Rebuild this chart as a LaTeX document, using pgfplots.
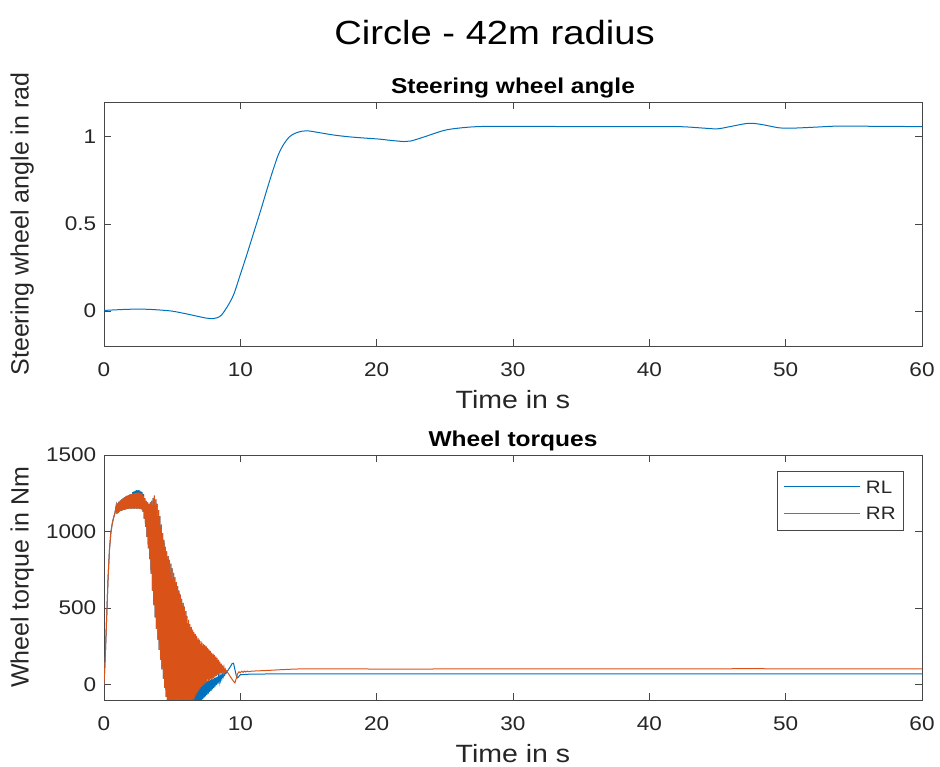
\documentclass[border=0pt]{standalone}
\usepackage{pgfplots}
\pgfplotsset{compat=1.18}
\usepackage{fontspec}
\setmainfont{Liberation Sans}[FakeStretch=1.14]
\newfontfamily\plainsans{Liberation Sans}
\definecolor{mblue}{RGB}{0,114,189}
\definecolor{morange}{RGB}{217,83,25}
\definecolor{axgray}{RGB}{38,38,38}
\pgfplotsset{
 myaxis/.style={
  scale only axis, width=818pt,
  xmin=0, xmax=60, xtick={0,10,...,60},
  axis line style={axgray!85, line width=0.8pt},
  major tick style={axgray!85, line width=0.8pt},
  major tick length=7pt,
  tick align=inside,
  ticklabel style={font=\fontsize{19.8}{23}\selectfont, text=axgray},
  /pgf/number format/assume math mode=true,
  /pgf/number format/1000 sep={},
  scaled y ticks=false,
  xticklabel style={anchor=base, yshift=-31pt},
  yticklabel style={anchor=east, inner sep=0pt, xshift=-7.5pt},
  xlabel style={at={(axis description cs:0.5,0)}, anchor=base, yshift=-63pt, font=\fontsize{25}{29}\selectfont, text=axgray},
  ylabel style={at={(axis description cs:-0.1,0.5)}, anchor=center, font=\plainsans\fontsize{25}{29}\selectfont, text=axgray},
  title style={at={(axis description cs:0.5,1)}, anchor=base, yshift=2pt, font=\bfseries\fontsize{21.5}{25}\selectfont, inner sep=0pt},
  xlabel={Time in s},
 }
}
\begin{document}
\begin{tikzpicture}
\path[use as bounding box] (0,0) rectangle (940pt,767pt);
\node[anchor=base, font=\fontsize{33.5}{38}\selectfont, inner sep=0pt] at (494.5pt,722pt) {Circle - 42m radius};

\begin{axis}[myaxis, at={(104pt,421pt)}, anchor=south west, height=244pt,
  ymin=-0.2, ymax=1.2, ytick={0,0.5,1},
  ylabel={Steering wheel angle in rad}, title={Steering wheel angle}]
\addplot[color=mblue, line width=1pt, smooth] coordinates {
(0,0.004) (1,0.008) (2,0.011) (3,0.011) (4,0.007) (5,0.0) (6,-0.015) (7,-0.032)
(7.5,-0.040) (8,-0.043) (8.3,-0.038) (8.6,-0.024) (9,0.02) (9.5,0.093) (10,0.21)
(10.5,0.33) (11,0.455) (11.5,0.58) (12,0.71) (12.4,0.81) (12.8,0.9) (13.2,0.96)
(13.6,1.0) (14,1.02) (14.5,1.032) (15,1.034) (15.5,1.028) (16.8,1.011) (18,1.0)
(19.3,0.992) (20.2,0.987) (21,0.98) (22,0.973) (22.5,0.976) (23.5,1.0) (24.9,1.036)
(26,1.05) (27.5,1.059) (30,1.06) (35,1.059) (40,1.059) (42.4,1.058) (44,1.05)
(45,1.046) (46,1.06) (47.3,1.078) (48.3,1.07) (49.5,1.052) (50.5,1.05) (52,1.055)
(54,1.062) (57,1.06) (60,1.059)
};
\end{axis}

\begin{axis}[myaxis, at={(104pt,67pt)}, anchor=south west, height=245pt,
  ymin=-100, ymax=1500, ytick={0,500,1000,1500},
  ylabel={Wheel torque in Nm}, title={Wheel torques}]
\addplot[color=mblue, line width=1pt] coordinates {
(0,0) (0.1,200) (0.2,450) (0.3,700) (0.4,880) (0.5,990) (0.6,1050) (0.7,1090) (0.8,1120)
(0.90,1170) (0.95,1115) (1.00,1183) (1.05,1122) (1.10,1195) (1.15,1130) (1.20,1203) (1.25,1136)
(1.30,1210) (1.35,1139) (1.40,1218) (1.45,1141) (1.50,1225) (1.55,1144) (1.60,1230) (1.65,1146)
(1.70,1235) (1.75,1149) (1.80,1238) (1.85,1150) (1.90,1242) (1.95,1150) (2.00,1245) (2.05,1150)
(2.10,1258) (2.15,1150) (2.20,1263) (2.25,1150) (2.30,1267) (2.35,1150) (2.40,1270) (2.45,1150)
(2.50,1270) (2.55,1150) (2.60,1269) (2.65,1149) (2.70,1266) (2.75,1145) (2.80,1258) (2.85,1130)
(2.90,1245) (2.95,1085) (3.00,1218) (3.05,1030) (3.10,1200) (3.15,965) (3.20,1190) (3.25,890)
(3.30,1180) (3.35,820) (3.40,1190) (3.45,725) (3.50,1200) (3.55,615) (3.60,1218) (3.65,520)
(3.70,1235) (3.75,440) (3.80,1210) (3.85,365) (3.90,1180) (3.95,295) (4.00,1140) (4.05,228)
(4.10,1100) (4.15,163) (4.20,1045) (4.25,100) (4.30,990) (4.35,40) (4.40,945) (4.45,-20)
(4.50,900) (4.55,-80) (4.60,870) (4.65,-120) (4.70,840) (4.75,-150) (4.80,815) (4.85,-150)
(4.90,790) (4.95,-150) (5.00,760) (5.05,-150) (5.10,730) (5.15,-150) (5.20,700) (5.25,-150)
(5.30,670) (5.35,-150) (5.40,643) (5.45,-150) (5.50,615) (5.55,-150) (5.60,588) (5.65,-150)
(5.70,560) (5.75,-150) (5.80,535) (5.85,-150) (5.90,510) (5.95,-150) (6.00,480) (6.05,-150)
(6.10,400) (6.15,-150) (6.20,330) (6.25,-150) (6.30,270) (6.35,-150) (6.40,210) (6.45,-150)
(6.50,160) (6.55,-150) (6.60,120) (6.65,-150) (6.70,85) (6.75,-150) (6.80,55) (6.85,-150)
(6.90,35) (6.95,-130) (7.00,20) (7.05,-115) (7.10,15) (7.15,-104) (7.20,12) (7.25,-94)
(7.30,14) (7.35,-85) (7.40,17) (7.45,-76) (7.50,20) (7.55,-67) (7.60,24) (7.65,-58)
(7.70,28) (7.75,-49) (7.80,32) (7.85,-40) (7.90,36) (7.95,-31) (8.00,40) (8.05,-22)
(8.10,44) (8.15,-13) (8.20,48) (8.25,-3) (8.30,52) (8.35,7) (8.40,56) (8.45,18)
(8.50,60) (8.55,29) (8.60,64) (8.65,41) (8.70,68) (8.75,52) (8.80,72) (8.85,63)
(8.90,78) (8.95,74) (9.00,84)
(9.1,95) (9.2,108) (9.3,122) (9.4,138) (9.5,140) (9.6,100) (9.7,60) (9.8,45) (9.9,55)
(10.0,65) (10.5,68) (12,70) (15,71) (20,71) (30,71) (40,71) (50,71) (60,71)
};
\addplot[color=morange, line width=1pt] coordinates {
(0,0) (0.1,200) (0.2,450) (0.3,700) (0.4,880) (0.5,990) (0.6,1050) (0.7,1090) (0.8,1120)
(0.90,1170) (0.95,1115) (1.00,1183) (1.05,1122) (1.10,1195) (1.15,1130) (1.20,1203) (1.25,1136)
(1.30,1210) (1.35,1139) (1.40,1218) (1.45,1141) (1.50,1225) (1.55,1144) (1.60,1230) (1.65,1146)
(1.70,1235) (1.75,1149) (1.80,1238) (1.85,1150) (1.90,1242) (1.95,1150) (2.00,1245) (2.05,1150)
(2.10,1248) (2.15,1150) (2.20,1250) (2.25,1150) (2.30,1252) (2.35,1150) (2.40,1254) (2.45,1150)
(2.50,1255) (2.55,1150) (2.60,1254) (2.65,1149) (2.70,1253) (2.75,1145) (2.80,1245) (2.85,1130)
(2.90,1235) (2.95,1085) (3.00,1218) (3.05,1030) (3.10,1200) (3.15,965) (3.20,1190) (3.25,890)
(3.30,1180) (3.35,820) (3.40,1190) (3.45,725) (3.50,1200) (3.55,615) (3.60,1218) (3.65,520)
(3.70,1235) (3.75,440) (3.80,1210) (3.85,365) (3.90,1180) (3.95,295) (4.00,1140) (4.05,228)
(4.10,1100) (4.15,163) (4.20,1045) (4.25,100) (4.30,990) (4.35,40) (4.40,945) (4.45,-20)
(4.50,900) (4.55,-80) (4.60,870) (4.65,-120) (4.70,840) (4.75,-150) (4.80,815) (4.85,-150)
(4.90,790) (4.95,-150) (5.00,760) (5.05,-150) (5.10,730) (5.15,-150) (5.20,700) (5.25,-150)
(5.30,670) (5.35,-150) (5.40,643) (5.45,-150) (5.50,615) (5.55,-150) (5.60,588) (5.65,-150)
(5.70,560) (5.75,-150) (5.80,535) (5.85,-150) (5.90,510) (5.95,-150) (6.00,480) (6.05,-150)
(6.10,450) (6.15,-150) (6.20,423) (6.25,-150) (6.30,395) (6.35,-150) (6.40,378) (6.45,-138)
(6.50,360) (6.55,-113) (6.60,345) (6.65,-90) (6.70,330) (6.75,-70) (6.80,318) (6.85,-52)
(6.90,305) (6.95,-38) (7.00,295) (7.05,-25) (7.10,285) (7.15,-15) (7.20,275) (7.25,-6)
(7.30,265) (7.35,1) (7.40,258) (7.45,8) (7.50,250) (7.55,15) (7.60,240) (7.65,21)
(7.70,230) (7.75,27) (7.80,220) (7.85,33) (7.90,210) (7.95,39) (8.00,203) (8.05,45)
(8.10,195) (8.15,52) (8.20,185) (8.25,58) (8.30,175) (8.35,65) (8.40,163) (8.45,70)
(8.50,150) (8.55,74) (8.60,138) (8.65,78) (8.70,125) (8.75,80) (8.80,113) (8.85,83)
(8.90,100) (8.95,84) (9.00,90)
(9.1,75) (9.2,62) (9.3,48) (9.4,35) (9.5,22) (9.6,12) (9.7,40) (9.8,72) (9.9,84)
(10.0,78) (10.1,88) (10.2,81) (10.3,89) (10.4,83) (10.5,89) (10.6,85) (10.8,88)
(11,89) (12,93) (13,98) (14,102) (15,104) (17,104) (20,102) (22,101) (25,103) (28,104)
(35,104) (45,103) (47,105) (50,103) (55,104) (60,104)
};
\node[draw=axgray!85, line width=0.8pt, fill=white, anchor=north east, inner sep=0pt,
  font=\fontsize{18}{20}\selectfont, text=axgray, xshift=-18pt, yshift=-16pt]
  at (rel axis cs:1,1) {%
  \begin{tabular}{@{\hspace{7pt}}l@{\hspace{6pt}}l@{\hspace{8pt}}}
  \rule{0pt}{22pt}\textcolor{mblue}{\rule[5.9pt]{76pt}{1.1pt}} & RL \\[6.5pt]
  \textcolor{morange}{\rule[5.9pt]{76pt}{1.1pt}} & RR\rule[-10.6pt]{0pt}{10.6pt}
  \end{tabular}};
\end{axis}
\end{tikzpicture}
\end{document}
